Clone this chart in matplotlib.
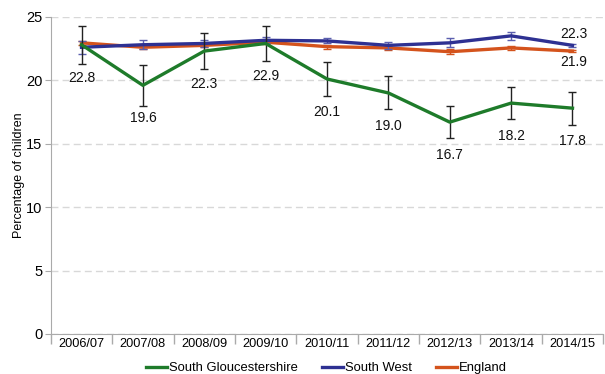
import numpy as np
import matplotlib.pyplot as plt
from matplotlib.ticker import FixedLocator
from matplotlib.lines import Line2D

plt.rcParams['font.family'] = ['Liberation Sans', 'DejaVu Sans']

years = ['2006/07', '2007/08', '2008/09', '2009/10', '2010/11',
         '2011/12', '2012/13', '2013/14', '2014/15']

# South Gloucestershire
sglos = [22.8, 19.6, 22.3, 22.9, 20.1, 19.0, 16.7, 18.2, 17.8]
sglos_err = [1.5, 1.6, 1.45, 1.4, 1.35, 1.3, 1.25, 1.25, 1.3]
sglos_labels = ['22.8', '19.6', '22.3', '22.9', '20.1', '19.0', '16.7', '18.2', '17.8']

# South West
sw = [22.6, 22.8, 22.9, 23.15, 23.1, 22.75, 22.95, 23.5, 22.75]
sw_err = [0.5, 0.35, 0.3, 0.25, 0.2, 0.3, 0.35, 0.3, 0.1]

# England
eng = [22.95, 22.6, 22.75, 23.0, 22.65, 22.55, 22.25, 22.55, 22.3]
eng_err = [0.15, 0.15, 0.15, 0.15, 0.15, 0.15, 0.2, 0.15, 0.1]

end_label_sw = '22.3'
end_label_eng = '21.9'

series_names = ['South Gloucestershire', 'South West', 'England']

green = '#1e7b2a'
blue = '#2e3192'
orange = '#d4531c'

fig = plt.figure(figsize=(6.05, 3.74), dpi=100)
ax = fig.add_axes([0.084, 0.107, 0.913, 0.848])

x = np.arange(len(years))

ax.errorbar(x, eng, yerr=eng_err, color=orange, lw=2.4, ecolor=orange,
            elinewidth=1, capsize=3, capthick=1, zorder=3)
ax.errorbar(x, sw, yerr=sw_err, color=blue, lw=2.4, ecolor='#5b5fae',
            elinewidth=1, capsize=3, capthick=1, zorder=4)
ax.errorbar(x, sglos, yerr=sglos_err, color=green, lw=2.4, ecolor='#222222',
            elinewidth=1, capsize=3, capthick=1, zorder=5)

# value labels under the South Gloucestershire points
for xi, yi, lab in zip(x, sglos, sglos_labels):
    ax.annotate(lab, (xi, yi), xytext=(0, -33), textcoords='offset pixels',
                ha='center', va='center', fontsize=10, color='#111111')

ax.annotate(end_label_sw, (x[-1], sw[-1]), xytext=(1, 11), textcoords='offset pixels',
            ha='center', va='center', fontsize=10, color='#111111')
ax.annotate(end_label_eng, (x[-1], eng[-1]), xytext=(1, -11), textcoords='offset pixels',
            ha='center', va='center', fontsize=10, color='#111111')

ax.set_xlim(-0.5, len(years) - 0.5)
ax.set_ylim(0, 25)
ax.set_yticks([0, 5, 10, 15, 20, 25])
ax.yaxis.grid(True, color='#d8d8d8', linestyle=(0, (5, 3)), lw=1)
ax.set_axisbelow(True)

ax.set_xticks(x)
ax.set_xticklabels(years)
ax.xaxis.set_minor_locator(FixedLocator(np.arange(-0.5, len(years), 1.0)))
ax.tick_params(axis='x', which='major', length=0, labelsize=9.2, pad=3)
ax.tick_params(axis='x', which='minor', length=7, color='#aaaaaa', width=1)
ax.tick_params(axis='y', length=4, color='#aaaaaa', labelsize=10.5, pad=2)

for s in ['top', 'right']:
    ax.spines[s].set_visible(False)
for s in ['left', 'bottom']:
    ax.spines[s].set_color('#aaaaaa')

ax.set_ylabel('Percentage of children', fontsize=9, labelpad=1)

leg_handles = [Line2D([], [], color=c, lw=2.4) for c in [green, blue, orange]]
fig.legend(leg_handles, series_names, loc='center',
           bbox_to_anchor=(0.54, 0.016), ncol=3, frameon=False, fontsize=9.4,
           handlelength=1.6, handletextpad=0.15, columnspacing=1.85)

fig.savefig('out.png', dpi=100)
